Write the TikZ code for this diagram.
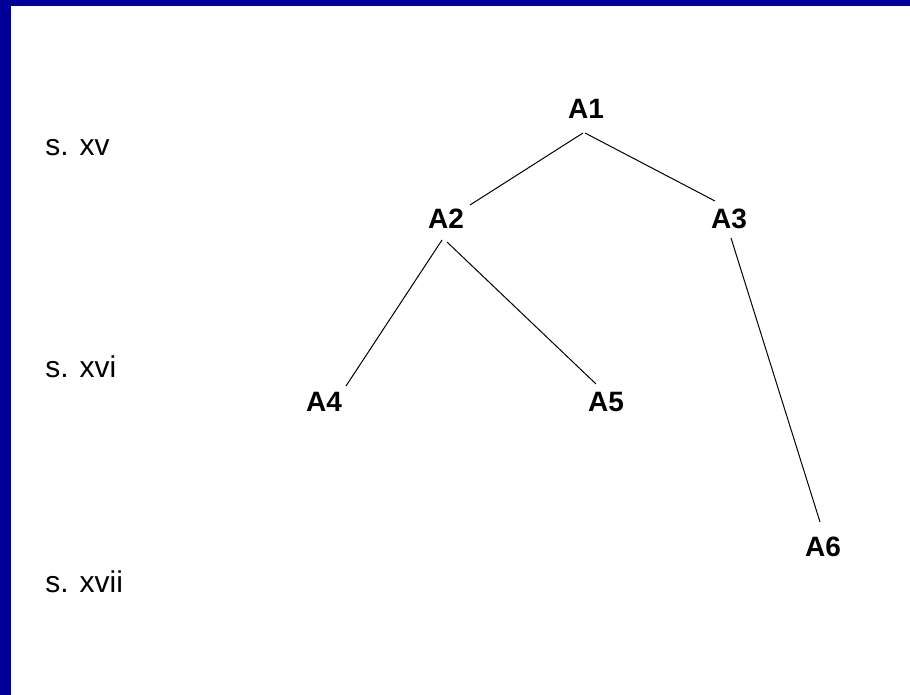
\documentclass[tikz,border=0pt]{standalone}
\usepackage{fontspec}
\setmainfont{Liberation Sans}
\usetikzlibrary{calc}
\definecolor{frameblue}{RGB}{0,0,153}
\tikzset{
  era/.style={anchor=base west, inner sep=0pt, font=\fontsize{22.5pt}{24pt}\selectfont},
  ms/.style={anchor=base, inner sep=0pt, font=\fontsize{21pt}{23pt}\selectfont\bfseries},
  link/.style={draw=black, line width=0.75pt}
}
\begin{document}
\begin{tikzpicture}[x=0.75pt, y=-0.75pt]
  \useasboundingbox (0,0) rectangle (910,695);
  \fill[white] (0,0) rectangle (910,695);
  \fill[frameblue] (0,0) rectangle (910,6);
  \fill[frameblue] (0,0) rectangle (11,695);
  % century labels
  \node[era] (c15) at (45,156) {s. xv};
  \node[era] (c16) at (45,377) {s. xvi};
  \node[era] (c17) at (45,592) {s. xvii};
  % manuscripts
  \node[ms] (A1) at (586,119) {A1};
  \node[ms] (A2) at (446,229) {A2};
  \node[ms] (A3) at (729,229) {A3};
  \node[ms] (A4) at (324,411) {A4};
  \node[ms] (A5) at (606,411) {A5};
  \node[ms] (A6) at (823,556) {A6};
  % connectors
  \draw[link] ($(A1.base)+(-3,14)$) -- ($(A2.base)+(24,-24)$);
  \draw[link] ($(A1.base)+(-1,14)$) -- ($(A3.base)+(-14,-28)$);
  \draw[link] ($(A2.base)+(-4,11)$) -- ($(A4.base)+(22,-25)$);
  \draw[link] ($(A2.base)+(1,13)$) -- ($(A5.base)+(-10,-27)$);
  \draw[link] ($(A3.base)+(2,9)$) -- ($(A6.base)+(-3,-34)$);
\end{tikzpicture}
\end{document}
